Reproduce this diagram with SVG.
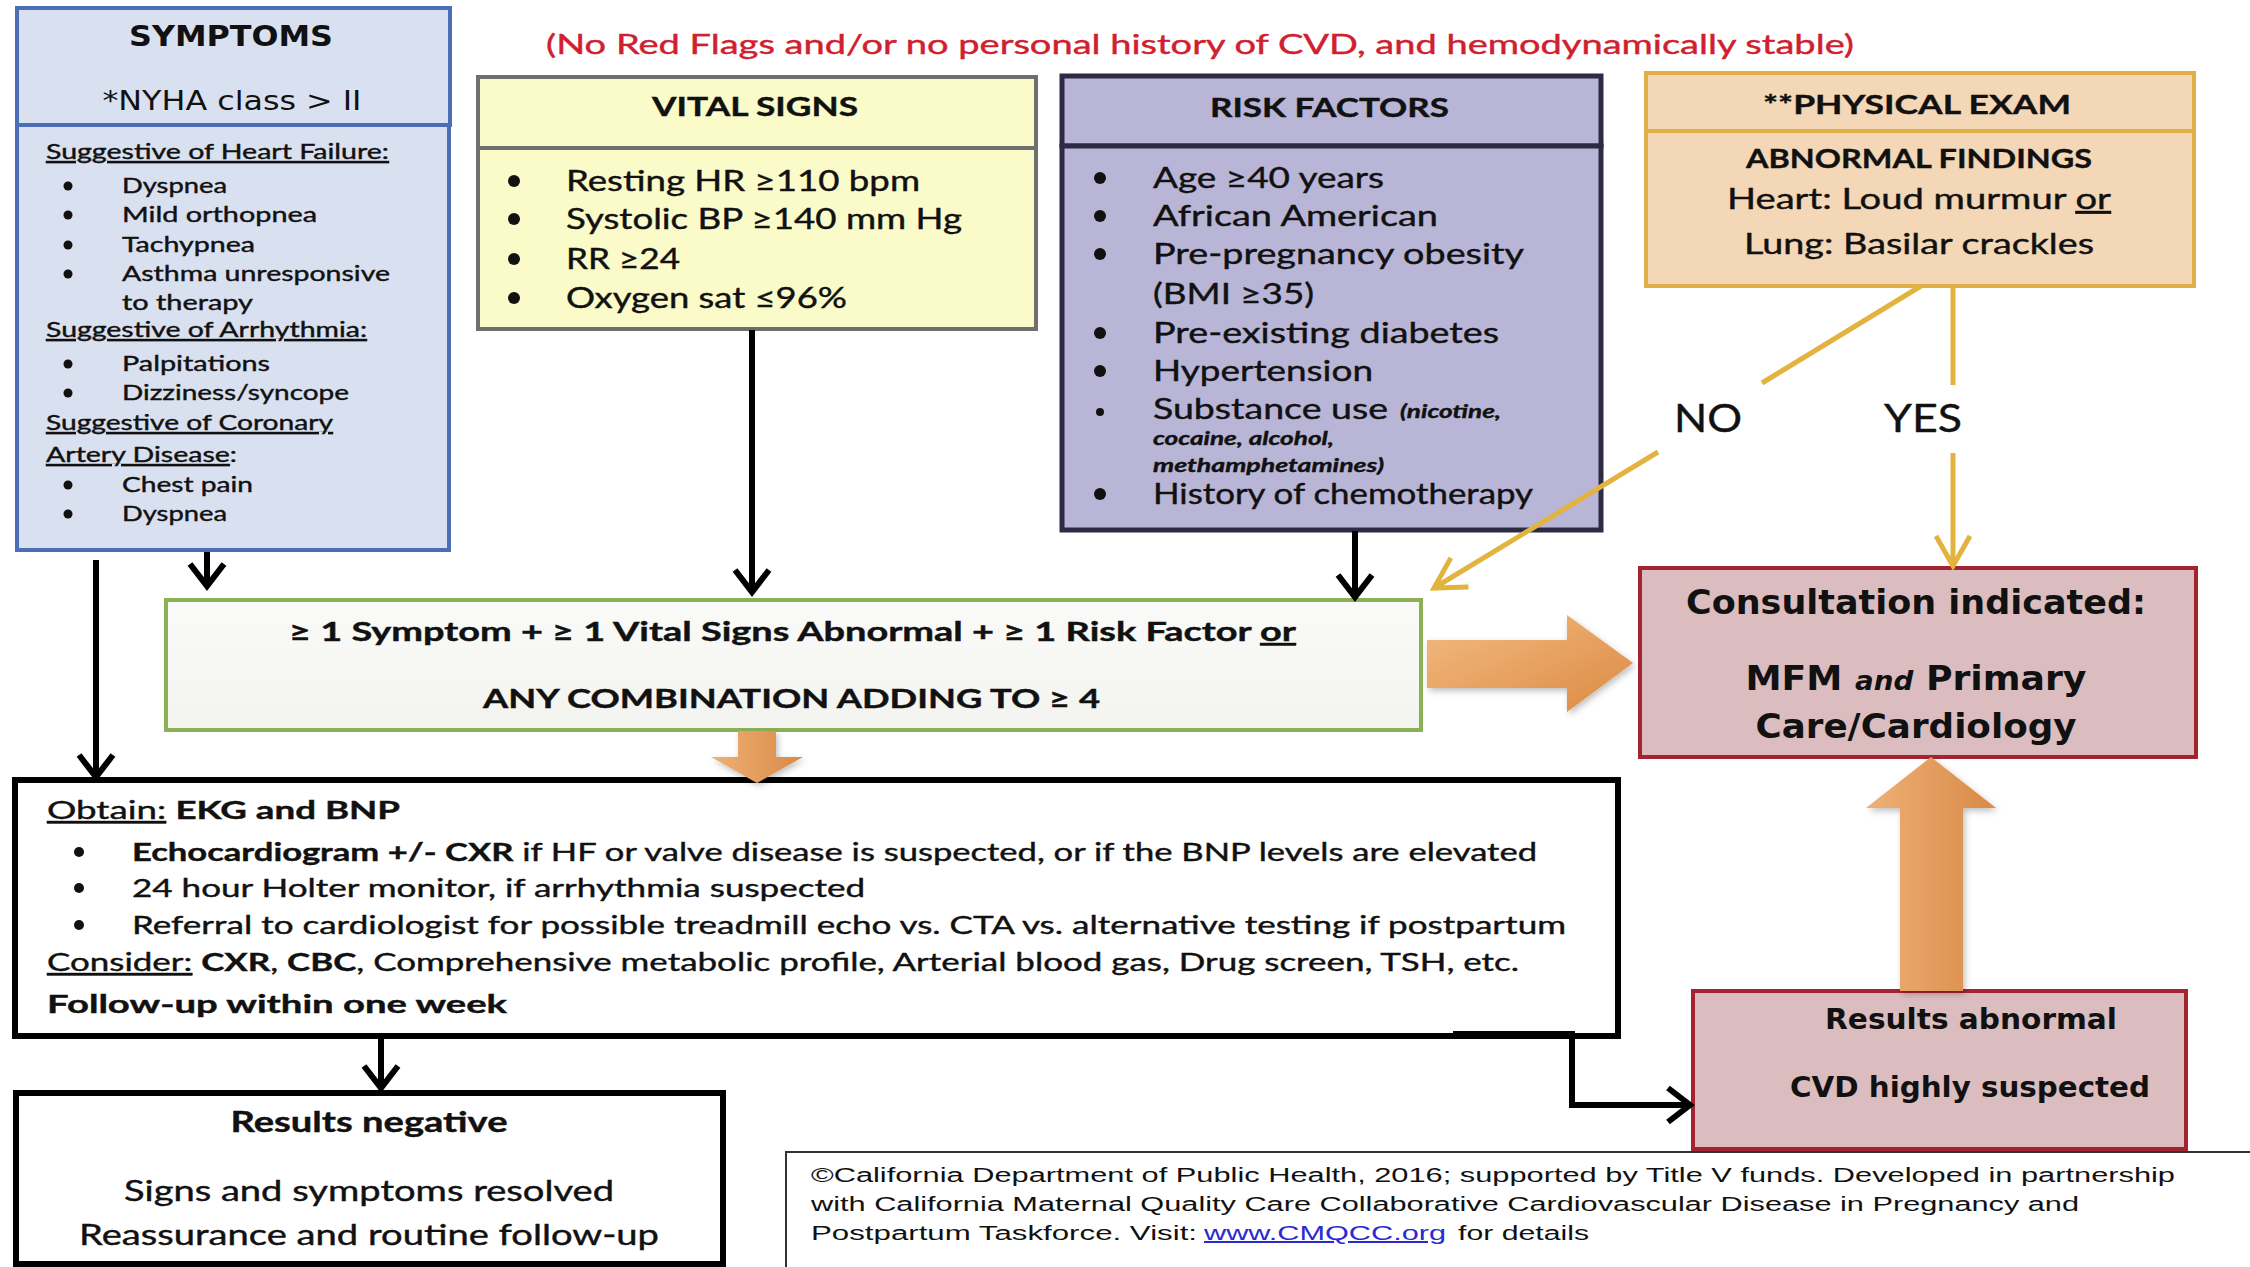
<svg xmlns="http://www.w3.org/2000/svg" width="2250" height="1267" viewBox="0 0 2250 1267">
<style>
.l{font-family:Lato,"Liberation Sans",sans-serif;fill:#111;stroke:#111;stroke-width:0.4px}
.d{font-family:"DejaVu Sans",Verdana,sans-serif;fill:#111}
.b{font-weight:bold}
.i{font-style:italic}
.u{text-decoration:underline}
.m{text-anchor:middle}
.bl{fill:#111}
.blk{fill:none;stroke:#000;stroke-width:6}
.gold{fill:none;stroke:#e2b33f;stroke-width:5}
.sym{fill:#d9e0ef;stroke:#4b6fb6;stroke-width:4}
.vit{fill:#fafbc9;stroke:#6f6f6f;stroke-width:4}
.rsk{fill:#b9b5d6;stroke:#2d2a45;stroke-width:5}
.phy{fill:#f3d7b6;stroke:#e0b046;stroke-width:4}
.con{fill:#dbbcbf;stroke:#a32430;stroke-width:4}
.org{stroke:none}
</style>
<defs>
<marker id="ah" markerUnits="userSpaceOnUse" viewBox="-30 -25 35 50" markerWidth="35" markerHeight="50" refX="0" refY="0" orient="auto" overflow="visible">
<path d="M-22,-17 L0,0 L-22,17" fill="none" stroke="#000" stroke-width="6"/>
</marker>
<marker id="ag" markerUnits="userSpaceOnUse" viewBox="-35 -25 40 50" markerWidth="40" markerHeight="50" refX="0" refY="0" orient="auto" overflow="visible">
<path d="M-30,-17 L0,0 L-30,17" fill="none" stroke="#e2b33f" stroke-width="5"/>
</marker>
<linearGradient id="og" x1="0" y1="0" x2="1" y2="1">
<stop offset="0" stop-color="#f3bb82"/>
<stop offset="1" stop-color="#dc8a42"/>
</linearGradient>
<linearGradient id="ogv" x1="0" y1="0" x2="1" y2="0">
<stop offset="0" stop-color="#eeb077"/>
<stop offset="1" stop-color="#d98a46"/>
</linearGradient>
<linearGradient id="gr" x1="0" y1="0" x2="0" y2="1">
<stop offset="0" stop-color="#fafaf8"/>
<stop offset="1" stop-color="#f3f3f0"/>
</linearGradient>
<filter id="sh" x="-20%" y="-20%" width="140%" height="140%">
<feDropShadow dx="2" dy="3" stdDeviation="3" flood-color="#000" flood-opacity="0.25"/>
</filter>
</defs>
<rect width="2250" height="1267" fill="#fff"/>

<text class="l" x="546" y="54" font-size="27" textLength="1308" lengthAdjust="spacingAndGlyphs" style="fill:#d0202f;stroke:#d0202f">(No Red Flags and/or no personal history of CVD, and hemodynamically stable)</text>

<g id="symptoms">
<rect class="sym" x="17" y="8" width="433" height="117"/>
<rect class="sym" x="17" y="125" width="432" height="425"/>
<text class="d b m" x="231" y="46" font-size="28" textLength="204" lengthAdjust="spacingAndGlyphs">SYMPTOMS</text>
<text class="d m" x="232" y="110" font-size="27" textLength="259" lengthAdjust="spacingAndGlyphs">*NYHA class &gt; II</text>
<g font-size="21">
<text class="l u" x="46" y="159" textLength="343" lengthAdjust="spacingAndGlyphs">Suggestive of Heart Failure:</text>
<text class="l" x="122" y="193" textLength="105" lengthAdjust="spacingAndGlyphs">Dyspnea</text>
<text class="l" x="122" y="222" textLength="195" lengthAdjust="spacingAndGlyphs">Mild orthopnea</text>
<text class="l" x="122" y="252" textLength="133" lengthAdjust="spacingAndGlyphs">Tachypnea</text>
<text class="l" x="122" y="281" textLength="268" lengthAdjust="spacingAndGlyphs">Asthma unresponsive</text>
<text class="l" x="122" y="310" textLength="131" lengthAdjust="spacingAndGlyphs">to therapy</text>
<text class="l u" x="46" y="337" textLength="321" lengthAdjust="spacingAndGlyphs">Suggestive of Arrhythmia:</text>
<text class="l" x="122" y="371" textLength="148" lengthAdjust="spacingAndGlyphs">Palpitations</text>
<text class="l" x="122" y="400" textLength="227" lengthAdjust="spacingAndGlyphs">Dizziness/syncope</text>
<text class="l u" x="46" y="430" textLength="287" lengthAdjust="spacingAndGlyphs">Suggestive of Coronary</text>
<text class="l" x="46" y="462" textLength="191" lengthAdjust="spacingAndGlyphs"><tspan class="u">Artery Disease</tspan>:</text>
<text class="l" x="122" y="492" textLength="131" lengthAdjust="spacingAndGlyphs">Chest pain</text>
<text class="l" x="122" y="521" textLength="105" lengthAdjust="spacingAndGlyphs">Dyspnea</text>
</g>
<g class="bl">
<circle cx="68" cy="186" r="4.5"/><circle cx="68" cy="215" r="4.5"/><circle cx="68" cy="245" r="4.5"/><circle cx="68" cy="274" r="4.5"/>
<circle cx="68" cy="364" r="4.5"/><circle cx="68" cy="393" r="4.5"/>
<circle cx="68" cy="485" r="4.5"/><circle cx="68" cy="514" r="4.5"/>
</g>
</g>

<g id="vital-signs">
<rect class="vit" x="478" y="77" width="558" height="71"/>
<rect class="vit" x="478" y="148" width="558" height="181"/>
<text class="l b" x="652" y="116" font-size="27" textLength="206" lengthAdjust="spacingAndGlyphs">VITAL SIGNS</text>
<g font-size="28">
<text class="l" x="566" y="191" textLength="354" lengthAdjust="spacingAndGlyphs">Resting HR ≥110 bpm</text>
<text class="l" x="566" y="229" textLength="396" lengthAdjust="spacingAndGlyphs">Systolic BP ≥140 mm Hg</text>
<text class="l" x="566" y="269" textLength="114" lengthAdjust="spacingAndGlyphs">RR ≥24</text>
<text class="l" x="566" y="308" textLength="281" lengthAdjust="spacingAndGlyphs">Oxygen sat ≤96%</text>
</g>
<g class="bl">
<circle cx="514" cy="181" r="6"/><circle cx="514" cy="219" r="6"/><circle cx="514" cy="259" r="6"/><circle cx="514" cy="298" r="6"/>
</g>
</g>

<g id="risk-factors">
<rect class="rsk" x="1062" y="76" width="539" height="70"/>
<rect class="rsk" x="1062" y="146" width="539" height="384"/>
<text class="l b" x="1210" y="117" font-size="27" textLength="239" lengthAdjust="spacingAndGlyphs">RISK FACTORS</text>
<g font-size="28">
<text class="l" x="1153" y="188" textLength="231" lengthAdjust="spacingAndGlyphs">Age ≥40 years</text>
<text class="l" x="1153" y="226" textLength="285" lengthAdjust="spacingAndGlyphs">African American</text>
<text class="l" x="1153" y="264" textLength="371" lengthAdjust="spacingAndGlyphs">Pre-pregnancy obesity</text>
<text class="l" x="1153" y="304" textLength="161" lengthAdjust="spacingAndGlyphs">(BMI ≥35)</text>
<text class="l" x="1153" y="343" textLength="346" lengthAdjust="spacingAndGlyphs">Pre-existing diabetes</text>
<text class="l" x="1153" y="381" textLength="220" lengthAdjust="spacingAndGlyphs">Hypertension</text>
<text class="l" x="1153" y="419" textLength="235" lengthAdjust="spacingAndGlyphs">Substance use</text>
<text class="l" x="1153" y="504" textLength="380" lengthAdjust="spacingAndGlyphs">History of chemotherapy</text>
</g>
<g font-size="19">
<text class="l b i" x="1400" y="418" textLength="101" lengthAdjust="spacingAndGlyphs">(nicotine,</text>
<text class="l b i" x="1153" y="445" textLength="181" lengthAdjust="spacingAndGlyphs">cocaine, alcohol,</text>
<text class="l b i" x="1153" y="472" textLength="231" lengthAdjust="spacingAndGlyphs">methamphetamines)</text>
</g>
<g class="bl">
<circle cx="1100" cy="178" r="6"/><circle cx="1100" cy="216" r="6"/><circle cx="1100" cy="254" r="6"/>
<circle cx="1100" cy="333" r="6"/><circle cx="1100" cy="371" r="6"/><circle cx="1100" cy="412" r="4"/><circle cx="1100" cy="494" r="6"/>
</g>
</g>

<g id="physical-exam">
<rect class="phy" x="1646" y="73" width="548" height="58"/>
<rect class="phy" x="1646" y="131" width="548" height="155"/>
<text class="l b m" x="1917" y="114" font-size="27" textLength="308" lengthAdjust="spacingAndGlyphs">**PHYSICAL EXAM</text>
<text class="l b m" x="1919" y="168" font-size="27" textLength="346" lengthAdjust="spacingAndGlyphs">ABNORMAL FINDINGS</text>
<text class="l m" x="1919" y="209" font-size="28" textLength="384" lengthAdjust="spacingAndGlyphs">Heart: Loud murmur <tspan class="u">or</tspan></text>
<text class="l m" x="1919" y="254" font-size="28" textLength="350" lengthAdjust="spacingAndGlyphs">Lung: Basilar crackles</text>
</g>

<g id="criteria">
<rect x="166" y="600" width="1255" height="130" fill="url(#gr)" stroke="#8cb055" stroke-width="4"/>
<text class="l b" x="289" y="641" font-size="26" textLength="1007" lengthAdjust="spacingAndGlyphs">≥ 1 Symptom + ≥ 1 Vital Signs Abnormal + ≥ 1 Risk Factor <tspan class="u">or</tspan></text>
<text class="l b" x="483" y="708" font-size="26" textLength="617" lengthAdjust="spacingAndGlyphs">ANY COMBINATION ADDING TO ≥  4</text>
</g>

<g id="consultation">
<rect class="con" x="1640" y="568" width="556" height="189"/>
<text class="d b m" x="1916" y="614" font-size="34" textLength="460" lengthAdjust="spacingAndGlyphs">Consultation indicated:</text>
<text class="d b m" x="1916" y="690" font-size="34" textLength="341" lengthAdjust="spacingAndGlyphs">MFM <tspan class="i" font-size="26">and</tspan> Primary</text>
<text class="d b m" x="1916" y="738" font-size="34" textLength="321" lengthAdjust="spacingAndGlyphs">Care/Cardiology</text>
</g>

<g id="workup">
<rect x="15" y="780" width="1603" height="256" fill="#fff" stroke="#000" stroke-width="6"/>
<g font-size="25">
<text class="l" x="47" y="819" textLength="353" lengthAdjust="spacingAndGlyphs"><tspan class="u">Obtain:</tspan> <tspan class="b">EKG and BNP</tspan></text>
<text class="l" x="132" y="861" textLength="1405" lengthAdjust="spacingAndGlyphs"><tspan class="b">Echocardiogram +/- CXR</tspan> if HF or valve disease is suspected, or if the BNP levels are elevated</text>
<text class="l" x="132" y="897" textLength="733" lengthAdjust="spacingAndGlyphs">24 hour Holter monitor, if arrhythmia suspected</text>
<text class="l" x="132" y="934" textLength="1434" lengthAdjust="spacingAndGlyphs">Referral to cardiologist for possible treadmill echo vs. CTA vs. alternative testing if postpartum</text>
<text class="l" x="47" y="971" textLength="1472" lengthAdjust="spacingAndGlyphs"><tspan class="u">Consider:</tspan> <tspan class="b">CXR</tspan>, <tspan class="b">CBC</tspan>, Comprehensive metabolic profile, Arterial blood gas, Drug screen, TSH, etc.</text>
<text class="l b" x="47" y="1013" textLength="460" lengthAdjust="spacingAndGlyphs">Follow-up within one week</text>
</g>
<g class="bl">
<circle cx="79" cy="852" r="5"/><circle cx="79" cy="888" r="5"/><circle cx="79" cy="925" r="5"/>
</g>
</g>

<g id="results-negative">
<rect x="16" y="1093" width="707" height="171" fill="#fff" stroke="#000" stroke-width="6"/>
<text class="l b m" x="369" y="1132" font-size="28" textLength="277" lengthAdjust="spacingAndGlyphs">Results negative</text>
<text class="l m" x="369" y="1201" font-size="28" textLength="490" lengthAdjust="spacingAndGlyphs">Signs and symptoms resolved</text>
<text class="l m" x="369" y="1245" font-size="28" textLength="580" lengthAdjust="spacingAndGlyphs">Reassurance and routine follow-up</text>
</g>

<g id="results-abnormal">
<rect class="con" x="1693" y="991" width="493" height="158"/>
<text class="d b m" x="1971" y="1029" font-size="28" textLength="292" lengthAdjust="spacingAndGlyphs">Results abnormal</text>
<text class="d b m" x="1970" y="1097" font-size="28" textLength="360" lengthAdjust="spacingAndGlyphs">CVD highly suspected</text>
</g>

<g id="footer">
<path d="M786,1267 V1152 H2250" fill="none" stroke="#333" stroke-width="2"/>
<g font-size="20" font-family="'Liberation Sans',Arial,sans-serif" fill="#111">
<text x="811" y="1182" textLength="1364" lengthAdjust="spacingAndGlyphs">©California Department of Public Health, 2016; supported by Title V funds. Developed in partnership</text>
<text x="811" y="1211" textLength="1268" lengthAdjust="spacingAndGlyphs">with California Maternal Quality Care Collaborative Cardiovascular Disease in Pregnancy and</text>
<text x="811" y="1240" textLength="386" lengthAdjust="spacingAndGlyphs">Postpartum Taskforce. Visit:</text>
<text x="1204" y="1240" textLength="242" lengthAdjust="spacingAndGlyphs" fill="#2a2ad0" text-decoration="underline">www.CMQCC.org</text>
<text x="1458" y="1240" textLength="131" lengthAdjust="spacingAndGlyphs">for details</text>
</g>
</g>

<g id="connectors">
<path class="blk" d="M96,560 V777" marker-end="url(#ah)"/>
<path class="blk" d="M207,552 V586" marker-end="url(#ah)"/>
<path class="blk" d="M752,330 V592" marker-end="url(#ah)"/>
<path class="blk" d="M1355,531 V597" marker-end="url(#ah)"/>
<path class="blk" d="M381,1036 V1088" marker-end="url(#ah)"/>
<path class="blk" d="M1453,1034 H1572 V1105 H1690" marker-end="url(#ah)"/>
<path class="gold" d="M1921,286 L1762,383"/>
<path class="gold" d="M1658,452 L1434,588" marker-end="url(#ag)"/>
<path class="gold" d="M1953,286 V385"/>
<path class="gold" d="M1953,453 V566" marker-end="url(#ag)"/>
<text class="l" x="1674" y="432" font-size="38" textLength="68" lengthAdjust="spacingAndGlyphs">NO</text>
<text class="l" x="1884" y="432" font-size="38" textLength="78" lengthAdjust="spacingAndGlyphs">YES</text>
<g filter="url(#sh)">
<polygon class="org" fill="url(#og)" points="1427,640 1567,640 1567,615 1633,663 1567,712 1567,688 1427,688"/>
<polygon class="org" fill="url(#ogv)" points="738,731 776,731 776,757 803,757 757,783 711,757 738,757"/>
<polygon class="org" fill="url(#ogv)" points="1900,991 1900,808 1866,808 1931,757 1996,808 1963,808 1963,991"/>
</g>
</g>
</svg>
